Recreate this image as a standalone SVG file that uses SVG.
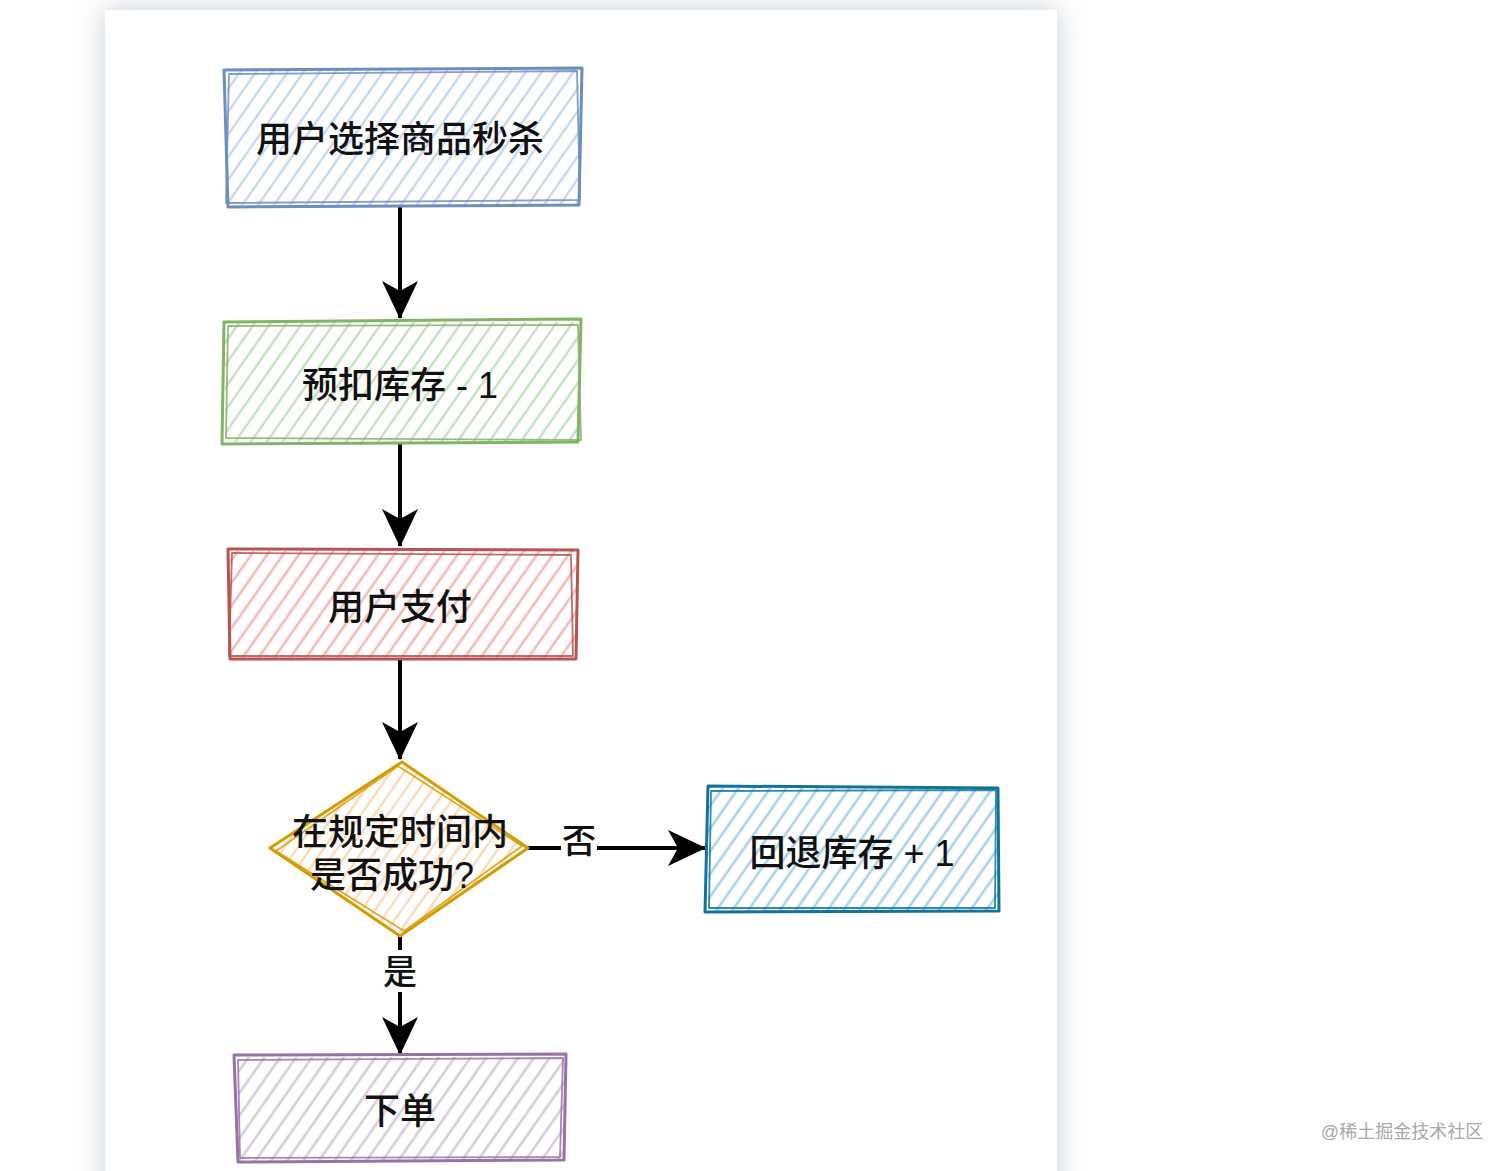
<svg xmlns="http://www.w3.org/2000/svg" width="1512" height="1171" viewBox="0 0 1512 1171">
<defs>
<style>
.t{font-family:"Liberation Sans","Noto Sans CJK SC",sans-serif;font-size:36px;font-weight:500;fill:#111;text-anchor:middle;dominant-baseline:central}
.lbl{font-family:"Liberation Sans","Noto Sans CJK SC",sans-serif;font-size:34px;font-weight:500;fill:#111;text-anchor:middle;dominant-baseline:central}
.edge{stroke:#000;stroke-width:4;fill:none}
.sk{fill:none;stroke-width:3;stroke-linejoin:round}
.sk2{fill:none;stroke-width:1.8;stroke-linejoin:round;opacity:.85}
</style>
<filter id="shadow" x="-10%" y="-10%" width="120%" height="120%">
<feDropShadow dx="0" dy="0" stdDeviation="14" flood-color="#7d8fa0" flood-opacity="0.45"/>
</filter>
<pattern id="hBlue" patternUnits="userSpaceOnUse" width="13" height="13" patternTransform="rotate(35)"><line x1="4" y1="0" x2="4" y2="13" stroke="#c6d6f0" stroke-width="2.4"/></pattern>
<pattern id="hGreen" patternUnits="userSpaceOnUse" width="13" height="13" patternTransform="rotate(35)"><line x1="4" y1="0" x2="4" y2="13" stroke="#c4dfc2" stroke-width="2.4"/></pattern>
<pattern id="hRed" patternUnits="userSpaceOnUse" width="13" height="13" patternTransform="rotate(35)"><line x1="4" y1="0" x2="4" y2="13" stroke="#f5b9b6" stroke-width="2.6"/></pattern>
<pattern id="hOrange" patternUnits="userSpaceOnUse" width="11" height="11" patternTransform="rotate(35)"><line x1="4" y1="0" x2="4" y2="11" stroke="#fdd9b5" stroke-width="2.4"/></pattern>
<pattern id="hCyan" patternUnits="userSpaceOnUse" width="13" height="13" patternTransform="rotate(35)"><line x1="4" y1="0" x2="4" y2="13" stroke="#a4d4ec" stroke-width="2.6"/></pattern>
<pattern id="hPurple" patternUnits="userSpaceOnUse" width="13" height="13" patternTransform="rotate(35)"><line x1="4" y1="0" x2="4" y2="13" stroke="#d6cade" stroke-width="2.6"/></pattern>
<marker id="arr" markerUnits="userSpaceOnUse" viewBox="0 0 38 36" refX="37" refY="18" markerWidth="38" markerHeight="36" orient="auto">
<path d="M0,0 L38,18 L0,36 L10,18 Z" fill="#000"/>
</marker>
</defs>

<rect width="1512" height="1171" fill="#fff"/>
<rect x="105" y="10" width="952" height="1200" fill="#fff" filter="url(#shadow)"/>

<g id="connectors">
<path class="edge" d="M400,207 L400,318" marker-end="url(#arr)"/>
<path class="edge" d="M400,443 L400,546" marker-end="url(#arr)"/>
<path class="edge" d="M400,660 L400,759" marker-end="url(#arr)"/>
<path class="edge" d="M528,848 L705,848" marker-end="url(#arr)"/>
<path class="edge" d="M400,937 L400,1054" marker-end="url(#arr)"/>
<rect x="561" y="826" width="36" height="40" fill="#fff"/>
<text class="lbl" x="579" y="841">否</text>
<rect x="382" y="950" width="36" height="42" fill="#fff"/>
<text class="lbl" x="400" y="972">是</text>
</g>

<g id="node-select">
<rect x="227" y="70" width="352" height="136" fill="url(#hBlue)"/>
<path class="sk" stroke="#6c8ebf" d="M224,70 L582,68 L579,205 L228,207 Z"/>
<path class="sk2" stroke="#6c8ebf" d="M229,74 L577,71 L580,200 L226,203 Z"/>
<text class="t" x="400" y="139">用户选择商品秒杀</text>
</g>

<g id="node-deduct">
<rect x="225" y="322" width="354" height="120" fill="url(#hGreen)"/>
<path class="sk" stroke="#82b366" d="M224,322 L581,319 L578,442 L222,444 Z"/>
<path class="sk2" stroke="#82b366" d="M228,326 L578,325 L581,440 L226,438 Z"/>
<text class="t" x="400" y="385">预扣库存 - 1</text>
</g>

<g id="node-pay">
<rect x="230" y="551" width="346" height="108" fill="url(#hRed)"/>
<path class="sk" stroke="#b85450" d="M228,549 L578,550 L576,659 L230,659 Z"/>
<path class="sk2" stroke="#b85450" d="M232,553 L571,555 L573,656 L229,656 Z"/>
<text class="t" x="400" y="607">用户支付</text>
</g>

<g id="node-decision">
<path d="M401,763 L527,848 L401,934 L272,848 Z" fill="url(#hOrange)"/>
<path class="sk" stroke="#d79b00" d="M402,762 L528,848 L400,936 L270,848 Z"/>
<path class="sk2" stroke="#d79b00" d="M398,766 L522,846 L404,931 L276,851 Z"/>
<text class="t"><tspan x="400" y="832">在规定时间内</tspan><tspan x="392" y="875">是否成功?</tspan></text>
</g>

<g id="node-rollback">
<rect x="708" y="788" width="290" height="123" fill="url(#hCyan)"/>
<path class="sk" stroke="#10739e" d="M708,786 L998,788 L999,911 L705,912 Z"/>
<path class="sk2" stroke="#10739e" d="M711,791 L996,790 L995,908 L709,908 Z"/>
<text class="t" x="852" y="853">回退库存 + 1</text>
</g>

<g id="node-order">
<rect x="238" y="1057" width="326" height="104" fill="url(#hPurple)"/>
<path class="sk" stroke="#9673a6" d="M234,1055 L566,1054 L564,1160 L238,1162 Z"/>
<path class="sk2" stroke="#9673a6" d="M238,1060 L563,1058 L560,1157 L240,1158 Z"/>
<text class="t" x="400" y="1111">下单</text>
</g>

<text x="1402" y="1132" font-family="'Liberation Sans','Noto Sans CJK SC',sans-serif" font-size="18" fill="#a8a8a8" text-anchor="middle" dominant-baseline="central">@稀土掘金技术社区</text>
</svg>
